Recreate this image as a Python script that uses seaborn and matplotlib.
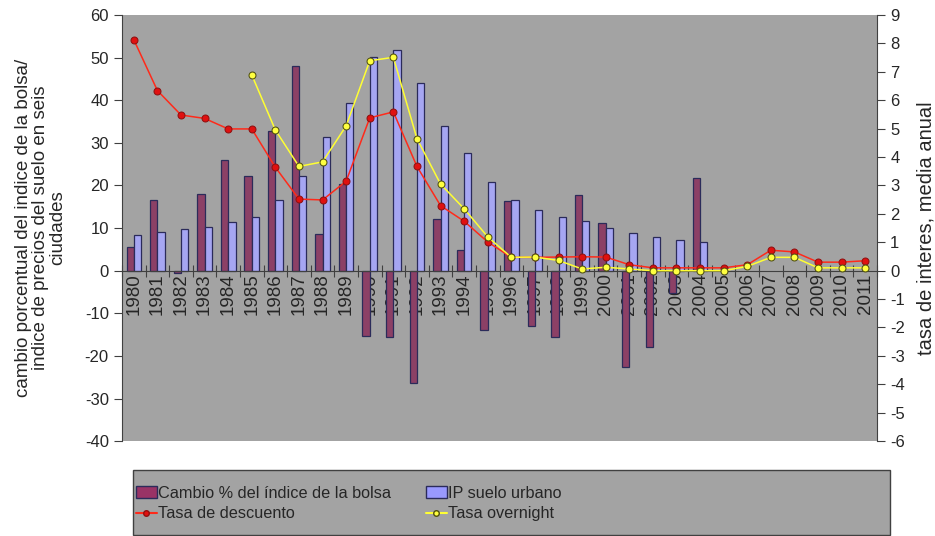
import matplotlib
matplotlib.use('Agg')
import matplotlib.pyplot as plt
from matplotlib.patches import Rectangle, Patch
from matplotlib.lines import Line2D
import seaborn as sns
import pandas as pd
import numpy as np

years = [str(y) for y in range(1980, 2012)]

# cambio % del indice de la bolsa (eje izquierdo)
bolsa = [5.5, 16.5, -0.5, 18.0, 26.0, 22.3, 32.7, 48.1, 8.6, 20.3,
         -15.4, -15.6, -26.3, 12.2, 4.9, -14.0, 16.4, -13.0, -15.6, 17.8,
         11.2, -22.7, -18.0, -5.2, 21.7, np.nan, np.nan, np.nan, np.nan, np.nan,
         np.nan, np.nan]
# IP suelo urbano (eje izquierdo)
suelo = [8.4, 9.1, 9.8, 10.3, 11.5, 12.7, 16.6, 22.3, 31.4, 39.3,
         50.2, 51.8, 44.0, 34.0, 27.7, 20.9, 16.6, 14.3, 12.7, 11.6,
         9.9, 8.8, 7.9, 7.1, 6.7, np.nan, np.nan, np.nan, np.nan, np.nan,
         np.nan, np.nan]
# tasas (eje derecho)
descuento = [8.13, 6.34, 5.48, 5.36, 4.99, 4.99, 3.64, 2.52, 2.49, 3.15,
             5.38, 5.59, 3.67, 2.29, 1.74, 1.01, 0.47, 0.47, 0.48, 0.49,
             0.48, 0.21, 0.10, 0.10, 0.10, 0.10, 0.21, 0.72, 0.66, 0.30,
             0.30, 0.35]
overnight = [np.nan, np.nan, np.nan, np.nan, np.nan, 6.89, 4.95, 3.67, 3.83, 5.10,
             7.39, 7.51, 4.65, 3.05, 2.18, 1.19, 0.47, 0.48, 0.36, 0.06,
             0.12, 0.06, 0.0, 0.0, 0.0, 0.0, 0.15, 0.47, 0.47, 0.10,
             0.10, 0.10]

lab_bolsa = 'Cambio % del índice de la bolsa'
lab_suelo = 'IP suelo urbano'
lab_desc = 'Tasa de descuento'
lab_over = 'Tasa overnight'

c_bolsa = '#993366'
c_suelo = '#9999ff'
c_desc = '#ff2a1a'
c_over = '#ffff33'
bg = '#a3a3a3'

sns.set_style('ticks')
plt.rcParams['font.family'] = ['Liberation Sans', 'DejaVu Sans']
plt.rcParams['font.size'] = 11
plt.rcParams['axes.unicode_minus'] = False

df = pd.DataFrame({'year': years * 2,
                   'valor': bolsa + suelo,
                   'serie': [lab_bolsa] * len(years) + [lab_suelo] * len(years)})

fig, ax = plt.subplots(figsize=(9.35, 5.36), dpi=100)
fig.subplots_adjust(left=0.1305, right=0.938, top=0.972, bottom=0.177)
ax.set_facecolor(bg)

sns.barplot(data=df, x='year', y='valor', hue='serie', hue_order=[lab_bolsa, lab_suelo],
            palette={lab_bolsa: c_bolsa, lab_suelo: c_suelo}, width=0.62,
            edgecolor='#2b2b5a', linewidth=0.9, legend=False, ax=ax)

ax.set_ylim(-40, 60)
ax.set_yticks(range(-40, 61, 10))
ax.set_xlim(-0.5, len(years) - 0.5)
ax.spines['bottom'].set_position(('data', 0))
ax.spines['top'].set_visible(False)
ax.spines['right'].set_visible(False)
for s in ['bottom', 'left']:
    ax.spines[s].set_color('#404040')
ax.set_xticks(np.arange(len(years) + 1) - 0.5)
ax.set_xticklabels([])
ax.tick_params(axis='x', which='major', direction='inout', length=8, color='#404040')
ax.set_xticks(np.arange(len(years)), minor=True)
ax.set_xticklabels(years, minor=True, rotation=90, fontsize=13.5)
ax.tick_params(axis='x', which='minor', length=0, pad=2)
ax.tick_params(axis='y', length=6, color='#404040', labelsize=12)
ax.set_xlabel('')
ax.set_ylabel('cambio porcentual del indice de la bolsa/\nindice de precios del suelo en seis\nciudades',
              fontsize=13.5, linespacing=1.0)
ax.yaxis.set_label_coords(-0.074, 0.5)

ax2 = ax.twinx()
pos = np.arange(len(years))
sns.lineplot(x=pos, y=descuento, color=c_desc, marker='o', markersize=5,
             markerfacecolor='#e01010', markeredgecolor='#901010', linewidth=1.1, ax=ax2)
sns.lineplot(x=pos, y=overnight, color=c_over, marker='o', markersize=5,
             markerfacecolor='#ffff40', markeredgecolor='#505010', linewidth=1.1, ax=ax2)
ax2.set_ylim(-6, 9)
ax2.set_yticks(range(-6, 10))
ax2.set_xlim(-0.5, len(years) - 0.5)
for s in ['top', 'left', 'bottom']:
    ax2.spines[s].set_visible(False)
ax2.spines['right'].set_color('#404040')
ax2.tick_params(axis='y', length=6, color='#404040', labelsize=12)
ax2.set_ylabel('tasa de interes, media anual', fontsize=14.5)
ax2.yaxis.set_label_coords(1.052, 0.5)

# legend box
fig.patches.append(Rectangle((133 / 935, 1 - 535 / 536), (890 - 133) / 935, (535 - 470) / 536,
                             transform=fig.transFigure, facecolor=bg, edgecolor='#404040',
                             linewidth=1.0, zorder=0))
handles = [Patch(facecolor=c_bolsa, edgecolor='#2b2b5a'),
           Line2D([], [], color=c_desc, marker='o', markersize=4,
                  markerfacecolor='#e01010', markeredgecolor='#901010'),
           Patch(facecolor=c_suelo, edgecolor='#2b2b5a'),
           Line2D([], [], color=c_over, marker='o', markersize=4,
                  markerfacecolor='#ffff40', markeredgecolor='#505010')]
fig.legend(handles, [lab_bolsa, lab_desc, lab_suelo, lab_over], ncol=2,
           loc='lower left', bbox_to_anchor=(121 / 935, 1 - 536 / 536),
           frameon=False, fontsize=11.7, handlelength=1.3, handletextpad=0.1,
           columnspacing=2.1, labelspacing=0.35)

fig.savefig('out.png', dpi=100)
